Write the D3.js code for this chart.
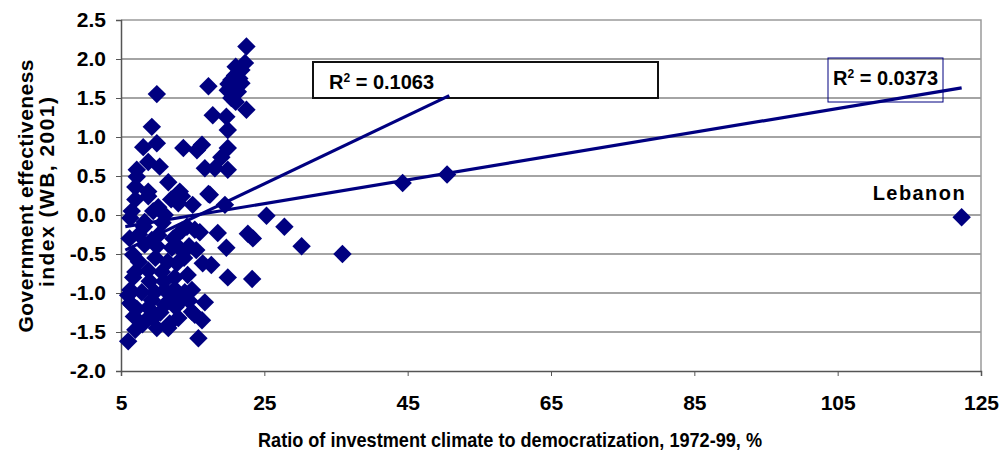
<!DOCTYPE html>
<html>
<head>
<meta charset="utf-8">
<script src="https://cdn.jsdelivr.net/npm/d3@7"></script>
<style>
    body { margin: 0; background: #fff; }
    svg text { font-family: "Liberation Sans", Arial, sans-serif; font-weight: bold; fill: #000; }
</style>
</head>
<body>
<svg id="chart" width="1004" height="453"></svg>
<script>
// [ratio of investment climate to democratization, government effectiveness]
const upperCountries = [
    [22.5, 2.16], [22.3, 1.95], [21.8, 1.86], [20.9, 1.79], [20.4, 1.73], [21.8, 1.69], [19.9, 1.60],
    [21.3, 1.58], [17.2, 1.65], [20.4, 1.50], [20.8, 1.55], [21.0, 1.45], [20.0, 1.68], [22.5, 1.35],
    [17.8, 1.28], [19.7, 1.26], [19.9, 1.09], [10.0, 1.55], [9.3, 1.13], [10.0, 0.92], [8.1, 0.87],
    [13.7, 0.86], [15.6, 0.83], [16.3, 0.90], [19.9, 0.86], [19.0, 0.74], [16.7, 0.60], [18.1, 0.60],
    [19.9, 0.58], [7.2, 0.58], [8.8, 0.68], [10.4, 0.62], [11.6, 0.42], [7.2, 0.49], [13.2, 0.30],
    [7.0, 0.36], [8.8, 0.30], [17.2, 0.27], [21.5, 1.75], [20.6, 1.62], [21.0, 1.90]
];
const lowerCountries = [
    [7.0, 0.20], [8.8, 0.24], [13.5, 0.24], [17.4, 0.26], [10.2, 0.10], [13.0, 0.15], [15.0, 0.13],
    [19.5, 0.13], [25.3, -0.01], [6.3, -0.04], [15.3, -0.19], [18.5, -0.23], [22.7, -0.24], [23.4, -0.30],
    [27.8, -0.15], [30.2, -0.40], [35.9, -0.50], [19.7, -0.42], [6.7, -0.51], [9.3, -0.32], [12.1, -0.42],
    [16.4, -0.62], [17.6, -0.64], [19.9, -0.80], [23.3, -0.82], [6.7, -0.80], [8.8, -0.71], [12.5, -0.80],
    [6.3, -0.96], [11.1, -0.96], [14.9, -0.96], [6.3, -1.13], [9.3, -1.09], [13.5, -1.09], [16.7, -1.12],
    [9.5, -1.32], [11.8, -1.39], [15.3, -1.28], [16.3, -1.35], [7.0, -1.47], [6.0, -1.62], [15.8, -1.58],
    [16.0, -0.22], [8.3, -0.09], [11.1, 0.0], [14.2, -0.15], [8.3, -0.38], [10.2, -0.26], [12.3, -0.30],
    [13.1, -0.42], [7.0, -0.73], [10.7, -0.73], [14.3, -0.77], [6.0, -1.03], [7.9, -0.99], [9.7, -0.99],
    [12.1, -1.03], [13.9, -0.99], [6.5, -1.15], [8.8, -1.19], [11.1, -1.15], [14.9, -1.24], [11.6, -1.45],
    [13.0, -1.32], [7.5, -0.25], [9.8, -0.55], [11.5, -0.60], [13.8, -0.55], [6.2, -0.30], [10.5, -1.25],
    [12.6, -1.18], [6.8, -1.30], [9.0, -0.85], [7.5, -0.60], [10.0, -0.40], [8.0, -1.40], [10.0, -1.45],
    [12.8, -0.62], [14.5, -0.40], [9.5, 0.05], [12.0, 0.20], [6.5, 0.05], [14.5, -1.10], [8.2, -0.15],
    [10.8, -0.10], [12.5, -0.95], [7.2, -1.20], [9.0, -1.30], [13.5, -0.20], [15.5, -0.45], [11.0, -0.85]
];
const outliers = [[44.3, 0.41], [50.5, 0.52], [122.3, -0.03]];

// trend lines, start and end in data units
const trendAll = [[5.6, -0.15], [122.3, 1.63]];
const trendNoLebanon = [[5.6, -0.45], [50.8, 1.53]];

const xTicks = [5, 25, 45, 65, 85, 105, 125];
const yTicks = [-2.0, -1.5, -1.0, -0.5, 0.0, 0.5, 1.0, 1.5, 2.0, 2.5];

const xTitle = "Ratio of investment climate to democratization, 1972-99, %";
const yTitle = ["Government effectiveness", "index (WB, 2001)"];

const NAVY = "#000080";
const leftX = 121, rightX = 981, upperY = 20, lowerY = 371;

const svg = d3.select("#chart");
const translate = (x, y) => "translate(" + x + "," + y + ")";

const xScale = d3.scaleLinear().domain([5, 125]).range([leftX, rightX]);
const yScale = d3.scaleLinear().domain([-2, 2.5]).range([lowerY, upperY]);

// grid
svg.append("g").selectAll("line.grid")
    .data(yTicks.filter(t => t > -2 && t < 2.5))
    .enter().append("line")
    .attr("x1", leftX).attr("x2", rightX)
    .attr("y1", d => yScale(d)).attr("y2", d => yScale(d))
    .attr("stroke", "#4a4a4a").attr("stroke-width", 1.2);

svg.append("path")
    .attr("d", "M" + leftX + "," + upperY + "H" + rightX + "V" + lowerY)
    .attr("fill", "none").attr("stroke", "#9a9a9a").attr("stroke-width", 1.5);

// axes
const yAxis = svg.append("g").attr("transform", translate(leftX, 0))
    .call(d3.axisLeft(yScale).tickValues(yTicks).tickSize(5).tickPadding(10).tickFormat(d3.format(".1f")));
const xAxis = svg.append("g").attr("transform", translate(0, lowerY))
    .call(d3.axisBottom(xScale).tickValues(xTicks).tickSize(5).tickPadding(19).tickFormat(d3.format("d")));

[xAxis, yAxis].forEach(a => {
    a.select(".domain").attr("stroke", "#555").attr("stroke-width", 1.5);
    a.selectAll(".tick line").attr("stroke", "#555");
    a.selectAll(".tick text")
        .attr("font-size", 21)
        .style("font-size", "21px")
        .attr("fill", "#000");
});
yAxis.selectAll(".tick text").text(d => d3.format(".1f")(d).replace("−", "-"));

// R² boxes
svg.append("rect")
    .attr("x", 313).attr("y", 62).attr("width", 345).attr("height", 36)
    .attr("fill", "#fff").attr("stroke", "#111").attr("stroke-width", 2);
svg.append("rect")
    .attr("x", 828).attr("y", 58).attr("width", 115).attr("height", 44)
    .attr("fill", "none").attr("stroke", NAVY).attr("stroke-width", 1);

const rLabel = (x, y, value) => {
    const t = svg.append("text").attr("x", x).attr("y", y).style("font-size", "20px");
    t.append("tspan").text("R");
    t.append("tspan").attr("dy", -7).style("font-size", "12px").text("2");
    t.append("tspan").attr("dy", 7).text(" = " + value);
};
rLabel(329, 89, "0.1063");
rLabel(833, 85, "0.0373");

// points
const allPoints = upperCountries.concat(lowerCountries, outliers);
const diamond = d3.symbol().type(d3.symbolSquare).size(170)();

svg.append("g").selectAll("path.dot")
    .data(allPoints)
    .enter().append("path")
    .attr("class", "dot")
    .attr("d", diamond)
    .attr("transform", d => translate(xScale(d[0]), yScale(d[1])) + " rotate(45)")
    .attr("fill", NAVY);

// trend lines
const line = d3.line().x(d => xScale(d[0])).y(d => yScale(d[1]));
[trendAll, trendNoLebanon].forEach(t => {
    svg.append("path")
        .attr("d", line(t))
        .attr("fill", "none").attr("stroke", NAVY).attr("stroke-width", 3.2);
});

// Lebanon label
const lebanon = outliers[2];
svg.append("text")
    .attr("x", xScale(lebanon[0]) + 3).attr("y", yScale(lebanon[1]) - 17)
    .attr("text-anchor", "end")
    .style("font-size", "20px")
    .attr("textLength", 92).attr("lengthAdjust", "spacing")
    .text("Lebanon");

// axis titles
svg.append("text")
    .attr("x", 510).attr("y", 447)
    .attr("text-anchor", "middle")
    .style("font-size", "21px")
    .attr("textLength", 504).attr("lengthAdjust", "spacingAndGlyphs")
    .text(xTitle);

const yTitleG = svg.append("g").attr("transform", translate(0, 196) + " rotate(-90)");
yTitleG.append("text")
    .attr("x", 0).attr("y", 33)
    .attr("text-anchor", "middle")
    .style("font-size", "21px")
    .attr("textLength", 273).attr("lengthAdjust", "spacing")
    .text(yTitle[0]);
yTitleG.append("text")
    .attr("x", 4).attr("y", 54)
    .attr("text-anchor", "middle")
    .style("font-size", "21px")
    .attr("textLength", 190).attr("lengthAdjust", "spacing")
    .text(yTitle[1]);
</script>
</body>
</html>
